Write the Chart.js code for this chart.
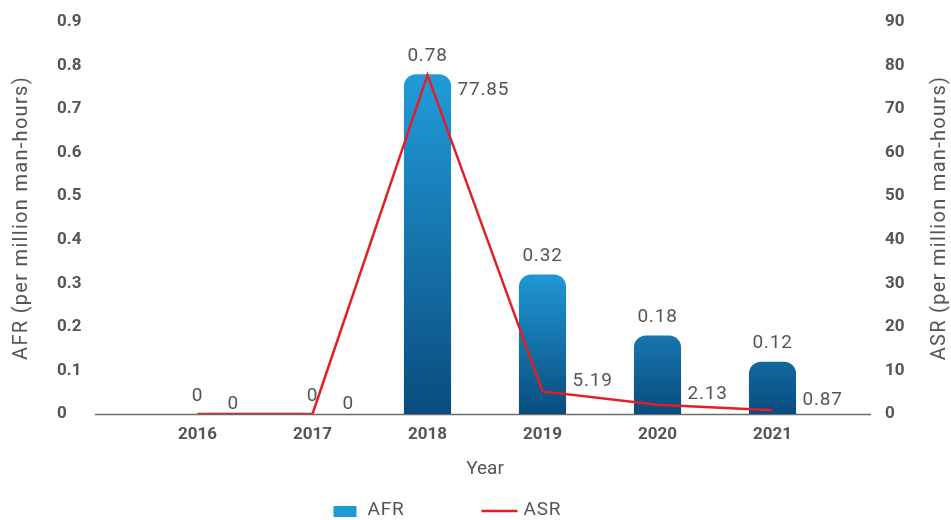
<!DOCTYPE html>
<html>
<head>
<meta charset="utf-8">
<script src="https://cdn.jsdelivr.net/npm/chart.js@4.4.0/dist/chart.umd.min.js"></script>
<style>
  html, body { margin: 0; padding: 0; background: #fff; }
</style>
</head>
<body>
<canvas id="chartSafety" width="951" height="520"></canvas>
<script>
var years = ['2016', '2017', '2018', '2019', '2020', '2021'];
var afr = [0, 0, 0.78, 0.32, 0.18, 0.12];
var asr = [0, 0, 77.85, 5.19, 2.13, 0.87];
var afrTickLabels = ['0', '0.1', '0.2', '0.3', '0.4', '0.5', '0.6', '0.7', '0.8', '0.9'];
var asrTickLabels = ['0', '10', '20', '30', '40', '50', '60', '70', '80', '90'];

var textGrey = '#555555';
var red = '#e31e25';
Chart.defaults.font.family = 'Roboto, "Noto Sans", sans-serif';

// bottom axis line, a bit wider than the plot
var baseLine = {
    id: 'baseLine',
    beforeDatasetsDraw: function (chart) {
        var ctx = chart.ctx, a = chart.chartArea;
        var y = Math.round(chart.scales.y.getPixelForValue(0)) + 0.5;
        ctx.save();
        ctx.strokeStyle = '#6b6b6b';
        ctx.lineWidth = 1.5;
        ctx.beginPath();
        ctx.moveTo(a.left - 45, y);
        ctx.lineTo(a.right + 41, y);
        ctx.stroke();
        ctx.restore();
    }
};

// rotated axis titles sit outside the tick labels
var sideTitles = {
    id: 'sideTitles',
    afterDraw: function (chart) {
        var ctx = chart.ctx, a = chart.chartArea;
        var mid = (a.top + a.bottom) / 2;
        ctx.save();
        ctx.font = '20px Roboto';
        ctx.letterSpacing = '1.3px';
        ctx.fillStyle = textGrey;
        ctx.textAlign = 'center';
        ctx.textBaseline = 'middle';
        [[22, 'AFR (per million man-hours)'], [chart.width - 11, 'ASR (per million man-hours)']].forEach(function (t) {
            ctx.save();
            ctx.translate(t[0], mid);
            ctx.rotate(-Math.PI / 2);
            ctx.fillText(t[1], 0, 0);
            ctx.restore();
        });
        ctx.restore();
    }
};

// data values over bars and beside the line points
var valueLabels = {
    id: 'valueLabels',
    afterDatasetsDraw: function (chart) {
        var ctx = chart.ctx;
        ctx.save();
        ctx.font = '19px Roboto';
        ctx.letterSpacing = '0.8px';
        ctx.fillStyle = textGrey;
        ctx.textBaseline = 'middle';
        ctx.textAlign = 'center';
        chart.getDatasetMeta(0).data.forEach(function (bar, i) {
            ctx.fillText(String(afr[i]), bar.x, bar.y - 18);
        });
        ctx.textAlign = 'left';
        chart.getDatasetMeta(1).data.forEach(function (pt, i) {
            var peak = asr[i] > (asr[i - 1] || 0) && asr[i] > (asr[i + 1] || 0);
            ctx.fillText(String(asr[i]), pt.x + 30, pt.y + (peak ? 15 : -10));
        });
        ctx.restore();
    }
};

// legend along the bottom edge
var bottomLegend = {
    id: 'bottomLegend',
    afterDraw: function (chart) {
        var ctx = chart.ctx;
        var x = chart.width / 2 - 142, y = chart.height - 10;
        var ds = chart.data.datasets;
        ctx.save();
        ctx.font = '19px Roboto';
        ctx.letterSpacing = '0.8px';
        ctx.fillStyle = '#1f9ad6';
        ctx.fillRect(x, y - 4, 23, 11);
        ctx.fillStyle = textGrey;
        ctx.textBaseline = 'middle';
        ctx.fillText(ds[0].label, x + 34, y);
        var x2 = x + 148;
        ctx.strokeStyle = red;
        ctx.lineWidth = 2.5;
        ctx.beginPath();
        ctx.moveTo(x2, y + 1);
        ctx.lineTo(x2 + 36, y + 1);
        ctx.stroke();
        ctx.fillText(ds[1].label, x2 + 42, y);
        ctx.restore();
    }
};

function barGradient(c) {
    var chart = c.chart;
    if (!chart.chartArea || c.type !== 'data') return '#1a80bb';
    var y = chart.scales.y;
    var base = y.getPixelForValue(0);
    var top = y.getPixelForValue(c.raw);
    var span = Math.max(base - top, 148);
    var g = chart.ctx.createLinearGradient(0, base, 0, base - span);
    g.addColorStop(0, '#0a4c7e');
    g.addColorStop(1, '#209cd9');
    return g;
}

var ctx = document.getElementById('chartSafety').getContext('2d');

var chart = new Chart(ctx, {
    type: 'bar',
    data: {
        labels: years,
        datasets: [{
            label: 'AFR',
            data: afr,
            yAxisID: 'y',
            order: 2,
            backgroundColor: barGradient,
            borderRadius: { topLeft: 12, topRight: 12 },
            borderSkipped: 'bottom',
            categoryPercentage: 1,
            barPercentage: 0.41
        }, {
            type: 'line',
            label: 'ASR',
            data: asr,
            yAxisID: 'y1',
            order: 1,
            borderColor: red,
            backgroundColor: red,
            borderWidth: 2.5,
            pointRadius: 0,
            tension: 0
        }]
    },
    options: {
        responsive: false,
        animation: false,
        devicePixelRatio: 1,
        layout: { padding: { left: 57, right: 36, top: 22, bottom: 26 } },
        plugins: {
            legend: { display: false },
            tooltip: { enabled: false }
        },
        scales: {
            x: {
                grid: { display: false, drawTicks: false },
                border: { display: false },
                ticks: { color: textGrey, font: { size: 17, weight: 'bold' }, padding: 11 },
                title: { display: true, text: 'Year', color: textGrey, font: { size: 19 }, padding: { top: 4, bottom: 13 } },
                afterFit: function (s) { s.height = 80; }
            },
            y: {
                position: 'left',
                min: 0, max: 0.9,
                grid: { display: false, drawTicks: false },
                border: { display: false },
                ticks: {
                    stepSize: 0.1,
                    crossAlign: 'far',
                    color: textGrey,
                    font: { size: 17, weight: 'bold' },
                    callback: function (v, i) { return afrTickLabels[i]; }
                },
                afterFit: function (s) { s.width = 83; }
            },
            y1: {
                position: 'right',
                min: 0, max: 90,
                grid: { display: false, drawTicks: false },
                border: { display: false },
                ticks: {
                    stepSize: 10,
                    padding: 55,
                    color: textGrey,
                    font: { size: 17, weight: 'bold' },
                    callback: function (v, i) { return asrTickLabels[i]; }
                },
                afterFit: function (s) {
                    s.width = 85;
                    // the wide tick padding should not push the plot down
                    s.paddingTop = 10;
                    s.paddingBottom = 10;
                }
            }
        }
    },
    plugins: [baseLine, valueLabels, sideTitles, bottomLegend]
});
</script>
</body>
</html>
